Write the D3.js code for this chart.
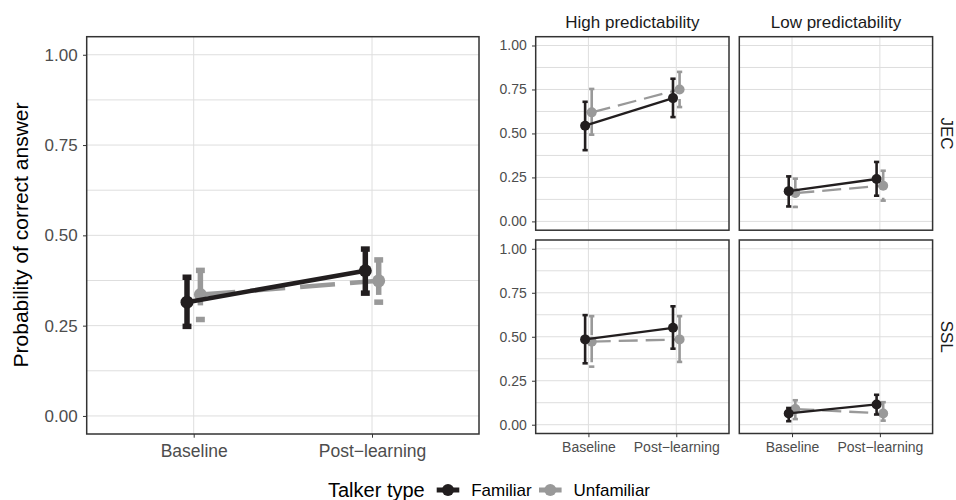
<!DOCTYPE html>
<html>
<head>
<meta charset="utf-8">
<script src="https://cdn.jsdelivr.net/npm/d3@7"></script>
<style>
  body { margin: 0; background: #fff; }
  text { font-family: "Liberation Sans", Arial, sans-serif; }
</style>
</head>
<body>
<div id="chart"></div>
<script>
// categories
var conditions = ["Baseline", "Post\u2212learning"];
var talkers = ["Familiar", "Unfamiliar"];
var facetCols = ["High predictability", "Low predictability"];
var facetRows = ["JEC", "SSL"];
var yTicks = [0, 0.25, 0.5, 0.75, 1];
var yMinor = [0.125, 0.375, 0.625, 0.875];

// [mean, lower, upper] per condition
var overallFamiliar = [[0.315, 0.248, 0.384], [0.402, 0.340, 0.462]];
var overallUnfamiliar = [[0.336, 0.267, 0.403], [0.374, 0.315, 0.432]];

var jecHighFamiliar = [[0.544, 0.405, 0.680], [0.701, 0.593, 0.811]];
var jecHighUnfamiliar = [[0.620, 0.493, 0.753], [0.750, 0.650, 0.850]];
var jecLowFamiliar = [[0.172, 0.085, 0.256], [0.241, 0.146, 0.338]];
var jecLowUnfamiliar = [[0.161, 0.082, 0.243], [0.203, 0.118, 0.288]];
var sslHighFamiliar = [[0.485, 0.349, 0.623], [0.551, 0.432, 0.673]];
var sslHighUnfamiliar = [[0.472, 0.330, 0.617], [0.485, 0.357, 0.617]];
var sslLowFamiliar = [[0.064, 0.020, 0.095], [0.115, 0.058, 0.170]];
var sslLowUnfamiliar = [[0.089, 0.032, 0.139], [0.064, 0.023, 0.128]];

var colors = { Familiar: "#221e1f", Unfamiliar: "#999999" };

var svg = d3.select("#chart").append("svg")
    .attr("width", 956)
    .attr("height", 500);

function drawPanel(box, familiar, unfamiliar, o) {
    var x = d3.scalePoint().domain(conditions)
        .range([box.x, box.x + box.w]).padding(0.6);
    var y = d3.scaleLinear().domain([-0.05, 1.05])
        .range([box.y + box.h, box.y]);
    var g = svg.append("g");

    // grid
    g.selectAll(null).data(yMinor.concat(yTicks)).enter().append("line")
        .attr("x1", box.x).attr("x2", box.x + box.w)
        .attr("y1", function (d) { return y(d) })
        .attr("y2", function (d) { return y(d) })
        .attr("stroke", "#dedede").attr("stroke-width", 1);
    g.selectAll(null).data(conditions).enter().append("line")
        .attr("x1", function (d) { return x(d) })
        .attr("x2", function (d) { return x(d) })
        .attr("y1", box.y).attr("y2", box.y + box.h)
        .attr("stroke", "#dedede").attr("stroke-width", 1);

    var dodge = 0.0375 * x.step();
    var cap = o.cap * x.step();
    var series = [
        { talker: "Unfamiliar", vals: unfamiliar, off: dodge, dash: o.dash },
        { talker: "Familiar", vals: familiar, off: -dodge, dash: null }
    ];

    series.forEach(function (s) {
        var pts = s.vals.map(function (v, i) {
            return { cx: x(conditions[i]) + s.off, m: v[0], lo: v[1], hi: v[2] };
        });
        var col = colors[s.talker];

        g.append("path")
            .attr("d", d3.line().x(function (d) { return d.cx }).y(function (d) { return y(d.m) })(pts))
            .attr("fill", "none")
            .attr("stroke", col)
            .attr("stroke-width", o.lineW)
            .attr("stroke-dasharray", s.dash);

        // error bars: top cap, stem (drawn downward), bottom cap
        pts.forEach(function (d) {
            var segs = [
                [d.cx - cap, y(d.hi), d.cx + cap, y(d.hi)],
                [d.cx, y(d.hi), d.cx, y(d.lo)],
                [d.cx - cap, y(d.lo), d.cx + cap, y(d.lo)]
            ];
            g.selectAll(null).data(segs).enter().append("line")
                .attr("x1", function (e) { return e[0] })
                .attr("y1", function (e) { return e[1] })
                .attr("x2", function (e) { return e[2] })
                .attr("y2", function (e) { return e[3] })
                .attr("stroke", col)
                .attr("stroke-width", o.errW)
                .attr("stroke-dasharray", s.dash);
        });

        g.selectAll(null).data(pts).enter().append("circle")
            .attr("cx", function (d) { return d.cx })
            .attr("cy", function (d) { return y(d.m) })
            .attr("r", o.r)
            .attr("fill", col);
    });

    g.append("rect")
        .attr("x", box.x).attr("y", box.y)
        .attr("width", box.w).attr("height", box.h)
        .attr("fill", "none").attr("stroke", "#333333").attr("stroke-width", 1.5);

    if (o.showY) {
        var ay = g.append("g")
            .call(d3.axisLeft(y).tickValues(yTicks).tickFormat(d3.format(".2f"))
                .tickSize(3.7).tickPadding(o.yPad))
            .attr("transform", "translate(" + box.x + ",0)");
        ay.select(".domain").remove();
        ay.selectAll("line").attr("stroke", "#333333");
        ay.selectAll("text").attr("fill", "#4d4d4d")
            .style("font-size", o.tickFont + "px");
    }
    if (o.showX) {
        var ax = g.append("g")
            .call(d3.axisBottom(x).tickSize(3.7).tickPadding(o.xPad))
            .attr("transform", "translate(0," + (box.y + box.h) + ")");
        ax.select(".domain").remove();
        ax.selectAll("line").attr("stroke", "#333333");
        ax.selectAll("text").attr("fill", "#4d4d4d")
            .style("font-size", o.xFont + "px");
    }
}

// left: overall
drawPanel({ x: 86.7, y: 36.7, w: 392.3, h: 397.3 }, overallFamiliar, overallUnfamiliar,
    { lineW: 4.5, errW: 5.5, r: 6.5, dash: "35,15", cap: 0.025,
      showY: true, showX: true, tickFont: 17, xFont: 17.5, yPad: 5.3, xPad: 6.7 });

svg.append("text")
    .attr("transform", "translate(21,235) rotate(-90)")
    .attr("dy", "0.35em")
    .attr("text-anchor", "middle")
    .style("font-size", "21px")
    .text("Probability of correct answer");

// right: facets
var colX = [535.7, 739.3];
var rowY = [36.7, 240];
var pw = 193.3, ph = 193.5;
var facetData = [
    [[jecHighFamiliar, jecHighUnfamiliar], [jecLowFamiliar, jecLowUnfamiliar]],
    [[sslHighFamiliar, sslHighUnfamiliar], [sslLowFamiliar, sslLowUnfamiliar]]
];

facetRows.forEach(function (row, ri) {
    facetCols.forEach(function (col, ci) {
        var d = facetData[ri][ci];
        drawPanel({ x: colX[ci], y: rowY[ri], w: pw, h: ph }, d[0], d[1],
            { lineW: 2.3, errW: 2.6, r: 5, dash: "19,8", cap: 0.03,
              showY: ci == 0, showX: ri == 1, tickFont: 14, xFont: 14, yPad: 5.3, xPad: 5.3 });
    });
    svg.append("text")
        .attr("transform", "translate(946.7," + (rowY[ri] + ph / 2) + ") rotate(90)")
        .attr("dy", "0.35em")
        .attr("text-anchor", "middle")
        .attr("fill", "#1a1a1a")
        .style("font-size", "17px")
        .text(row);
});

facetCols.forEach(function (col, ci) {
    svg.append("text")
        .attr("x", colX[ci] + pw / 2)
        .attr("y", 28)
        .attr("text-anchor", "middle")
        .attr("fill", "#1a1a1a")
        .style("font-size", "17px")
        .text(col);
});

// legend
var legend = svg.append("g");
legend.append("text")
    .attr("x", 328).attr("y", 497)
    .style("font-size", "20px")
    .text("Talker type");
var keyX = { Familiar: 436.7, Unfamiliar: 539 };
talkers.forEach(function (t) {
    var kx = keyX[t];
    legend.append("line")
        .attr("x1", kx).attr("x2", kx + 22.6)
        .attr("y1", 490).attr("y2", 490)
        .attr("stroke", colors[t]).attr("stroke-width", 5);
    legend.append("circle")
        .attr("cx", kx + 11.3).attr("cy", 490).attr("r", 6)
        .attr("fill", colors[t]);
    legend.append("text")
        .attr("x", kx + 34.5).attr("y", 496)
        .style("font-size", "17px")
        .text(t);
});
</script>
</body>
</html>
